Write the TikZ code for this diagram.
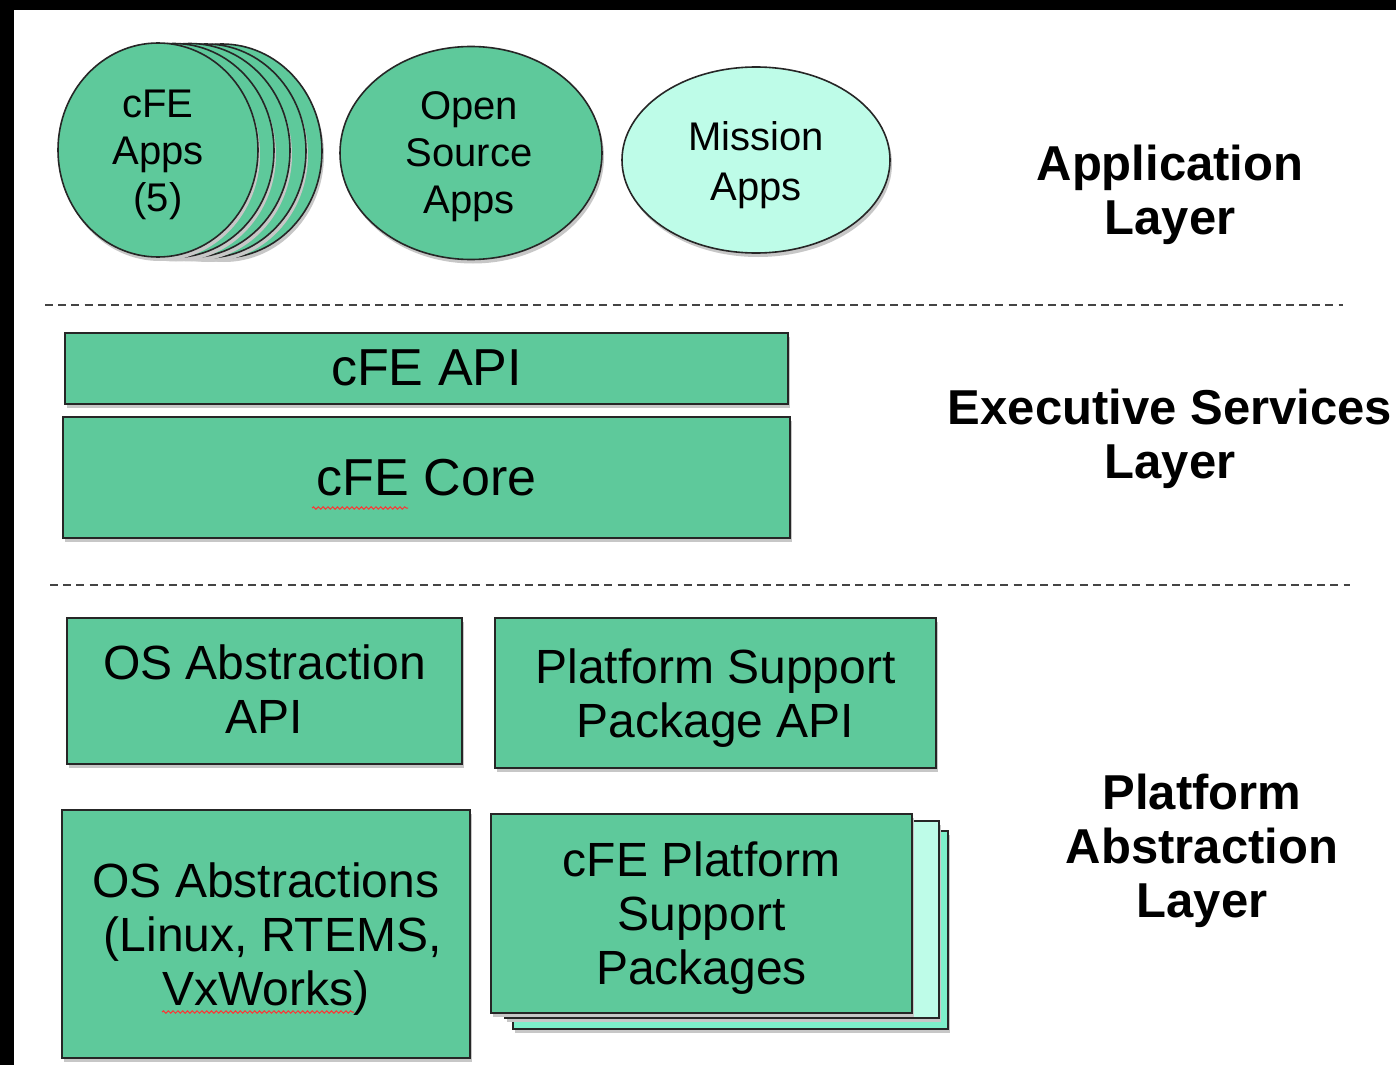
\documentclass[tikz,border=0pt]{standalone}
\usepackage{fontspec}
\setmainfont{Liberation Sans}
\usetikzlibrary{shadows,decorations.pathmorphing,shapes.geometric}
\definecolor{cfegreen}{HTML}{5EC99B}
\definecolor{mintlight}{HTML}{BEFCE8}
\definecolor{mintmid}{HTML}{7DEFCA}
\definecolor{dashgray}{HTML}{444444}
\tikzset{
  shade/.style={drop shadow={shadow xshift=1pt, shadow yshift=-2pt, fill=black!22, opacity=1}},
  box/.style={draw=black!85, line width=1pt, fill=cfegreen, inner sep=0pt, align=center, shade},
  ell/.style={ellipse, draw=black!85, line width=0.8pt, fill=cfegreen, inner sep=0pt, align=center, shade},
  sep/.style={dashgray, line width=1.1pt, dash pattern=on 4pt off 2.6pt},
  layer/.style={font=\fontsize{24.5}{27}\selectfont\bfseries, align=center},
  boxfont/.style={font=\fontsize{24}{27}\selectfont, align=center, inner sep=0pt},
  ellfont/.style={font=\fontsize{20}{23.5}\selectfont, align=center, inner sep=0pt},
  squig/.style={red!80, line width=0.5pt, decorate, decoration={snake, amplitude=0.6pt, segment length=2.4pt}}
}
\begin{document}
\begin{tikzpicture}[x=0.5pt,y=-0.5pt]
\useasboundingbox (0,0) rectangle (1396,1065);
\fill[white] (0,0) rectangle (1396,1065);
\fill[black] (0,0) rectangle (14,1065);
\fill[black] (0,0) rectangle (1396,10);

% Application layer
\node[ell, minimum width=100pt, minimum height=107pt] (cfe4) at (222,151) {};
\node[ell, minimum width=100pt, minimum height=107pt] (cfe3) at (206,151) {};
\node[ell, minimum width=100pt, minimum height=107pt] (cfe2) at (190,150.5) {};
\node[ell, minimum width=100pt, minimum height=107pt] (cfe1) at (174,150.5) {};
\node[ell, minimum width=100pt, minimum height=107pt] (cfeapps) at (158,150) {};
\node[ellfont] (tcfeapps) at ([yshift=-2.5pt]cfeapps.center) {cFE\\Apps\\(5)};
\node[ell, minimum width=131pt, minimum height=106.5pt] (oss) at (471,153) {};
\node[ellfont] (toss) at ([xshift=-1pt,yshift=-2pt]oss.center) {Open\\Source\\Apps};
\node[ell, fill=mintlight, minimum width=134pt, minimum height=93pt] (mission) at (756,160) {};
\node[ellfont, font=\fontsize{20}{25}\selectfont] (tmission) at ([yshift=-2.8pt]mission.center) {Mission\\Apps};
\node[layer] (applayer) at (1170,195) {Application\\Layer};

\coordinate (d1a) at (45,305);
\coordinate (d1b) at (1343,305);
\draw[sep] (d1a) -- (d1b);

% Executive services layer
\node[box, minimum width=361.5pt, minimum height=35.5pt, font=\fontsize{26}{30}\selectfont] (cfeapi) at (426.5,368) {cFE API};
\node[box, minimum width=363.5pt, minimum height=60.5pt, font=\fontsize{26}{30}\selectfont] (cfecore) at (426.5,477.5) {cFE Core};
\coordinate (sq1a) at (312,508);
\coordinate (sq1b) at (408,508);
\draw[squig] (sq1a) -- (sq1b);
\node[layer] (execlayer) at (1170,439) {Executive Services\\Layer};

\coordinate (d2a) at (50,585);
\coordinate (d2b) at (1350,585);
\draw[sep] (d2a) -- (d2b);

% Platform abstraction layer
\node[box, minimum width=197.5pt, minimum height=73pt] (osapi) at (264.5,691) {};
\node[boxfont] (tosapi) at ([yshift=1pt]osapi.center) {OS Abstraction\\API};
\node[box, minimum width=220.5pt, minimum height=75pt] (pspapi) at (715.5,693) {};
\node[boxfont] (tpspapi) at ([yshift=-2.7pt]pspapi.center) {Platform Support\\Package API};
\node[box, minimum width=204pt, minimum height=124pt] (osabs) at (266,934) {};
\node[boxfont] (tosabs) at ([yshift=-2.5pt]osabs.center) {OS Abstractions\\\ (Linux, RTEMS,\\VxWorks)};
\coordinate (sq2a) at (162,1012);
\coordinate (sq2b) at (354,1012);
\draw[squig] (sq2a) -- (sq2b);
\node[box, fill=mintmid, minimum width=217.5pt, minimum height=99pt] (psp3) at (730.5,930) {};
\node[box, fill=mintlight, minimum width=217pt, minimum height=98.5pt] (psp2) at (722,919.5) {};
\node[box, minimum width=210.5pt, minimum height=99.5pt] (psp1) at (701.5,913.5) {};
\node[boxfont] (tpsp1) at ([yshift=-2.5pt]psp1.center) {cFE Platform\\Support\\Packages};
\node[layer] (platlayer) at (1202,851) {Platform\\Abstraction\\Layer};
\end{tikzpicture}
\end{document}
